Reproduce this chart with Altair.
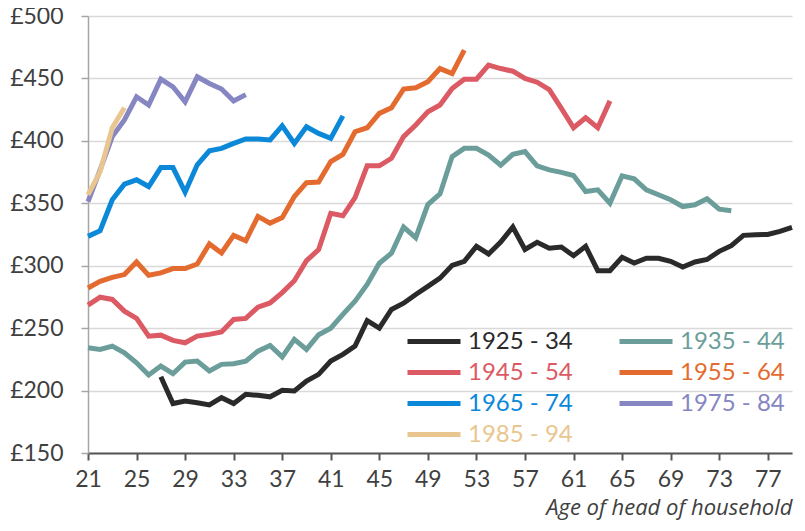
import altair as alt
import pandas as pd

cohorts = ["1925 - 34", "1935 - 44", "1945 - 54", "1955 - 64", "1965 - 74", "1975 - 84", "1985 - 94"]
colors = ["#2a2a2a", "#6b9e9b", "#db5a64", "#e46b2f", "#0b88d8", "#8586c2", "#e9c68f"]
start_ages = [27, 21, 21, 21, 21, 21, 21]

v1925 = [211, 189.6, 191.7, 190.3, 188.5, 194.3, 189.6, 197, 196.2, 195, 200.2, 199.7, 207.7, 213,
         223.6, 229, 235.6, 256, 250, 265, 270, 277, 283.5, 290, 300.3, 303.5, 315.5, 309.4, 319,
         331, 313, 318.7, 314, 315, 308, 315.5, 296, 296, 306.7, 302.2, 306, 306, 303.5, 299, 303,
         305, 311.5, 316, 324.3, 324.8, 325, 327.5, 330.7]
v1935 = [234.3, 233, 235.6, 230.3, 222.3, 212.5, 219.6, 213.5, 222.8, 223.6, 215.7, 221, 221.5,
         223.6, 231.6, 236.2, 227, 241, 233, 244.7, 250, 261, 271.6, 285, 302, 310, 331, 322.5,
         349, 357.5, 387.4, 394, 394, 388.7, 380.5, 389.2, 391.4, 380, 376.8, 374.8, 372.2, 359.4,
         360.8, 350, 372, 369.6, 360.8, 356.8, 352.8, 347.4, 348.8, 353.6, 345.3, 344]
v1945 = [268.4, 274.8, 273, 263.6, 257.8, 243.6, 244.4, 240.2, 238.3, 243.6, 245, 247, 256.9,
         257.8, 266.8, 270.2, 278.5, 288, 304, 312.9, 342, 340, 354.5, 380, 380, 386, 403.4,
         412.7, 423.3, 428.7, 441.9, 449.4, 449.4, 460.6, 457.9, 455.8, 450, 447, 441, 426,
         410.5, 418.5, 410.5, 432]
v1955 = [282.2, 287.5, 290.7, 292.9, 303, 292.3, 294.2, 297.7, 297.7, 301.4, 317.4, 310.2, 324.3,
         320, 339.5, 334.1, 338.5, 355.4, 366.5, 367, 383.4, 389.2, 407.3, 410.5, 422, 426.5,
         441.5, 442.5, 447.3, 457.9, 453.9, 472.6]
v1965 = [323.5, 328, 352.8, 365.3, 368.8, 363.4, 378.6, 378.6, 358.9, 380.8, 392, 394, 398, 401.5,
         401.5, 400.7, 412, 398, 411.3, 406, 402, 420]
v1975 = [351.4, 376.8, 403.4, 416.7, 435.3, 428.7, 449.4, 443.3, 431.3, 451.3, 445.9, 441.5,
         431.9, 437]
v1985 = [356.8, 375.4, 410.5, 426.5]

series = [v1925, v1935, v1945, v1955, v1965, v1975, v1985]
x_ticks = list(range(21, 78, 4))
y_ticks = list(range(150, 501, 50))

rows = []
for i, (name, start, vals) in enumerate(zip(cohorts, start_ages, series)):
    for k, v in enumerate(vals):
        rows.append({"cohort": name, "age": start + k, "value": v, "ord": i})
df = pd.DataFrame(rows)

label_expr = " : ".join(
    f"datum.label == '{c}' ? '{col}'" for c, col in zip(cohorts, colors)
) + " : '#333'"

FONT = "Lato"

chart = alt.Chart(df).mark_line(strokeWidth=5, strokeJoin="miter", strokeCap="butt").encode(
    x=alt.X("age:Q",
            scale=alt.Scale(domain=[21, 79], nice=False, zero=False),
            axis=alt.Axis(values=x_ticks, title="Age of head of household", grid=False,
                          domainColor="#555555", domainWidth=2, tickColor="#555555", tickWidth=2,
                          tickSize=7, labelFontSize=23, labelColor="#404040", labelPadding=8,
                          labelFont=FONT, titleFont="Open Sans", titleFontSize=22,
                          titleFontStyle="italic", titleFontWeight="normal", titleColor="#404040",
                          titleAnchor="end", titlePadding=6, labelFlush=False)),
    y=alt.Y("value:Q",
            scale=alt.Scale(domain=[150, 500], nice=False, zero=False),
            axis=alt.Axis(values=y_ticks, title=None, labelExpr="'£' + datum.value",
                          grid=True, gridColor="#d9d9d9", gridWidth=1.5,
                          domainColor="#a6a6a6", domainWidth=1.5, tickColor="#a6a6a6",
                          tickWidth=1.5, tickSize=7, labelFontSize=23, labelColor="#404040",
                          labelPadding=18, labelFont=FONT)),
    color=alt.Color("cohort:N",
                    scale=alt.Scale(domain=cohorts, range=colors),
                    legend=alt.Legend(title=None, orient="none", legendX=317, legendY=313,
                                      columns=2, direction="horizontal",
                                      symbolType="stroke", symbolSize=2809,
                                      symbolStrokeWidth=5, labelFontSize=24, labelFont=FONT,
                                      labelOffset=5, rowPadding=6, columnPadding=44,
                                      clipHeight=25,
                                      labelColor={"expr": label_expr})),
    order=alt.Order("ord:Q"),
).properties(
    width=704, height=437,
    padding={"left": 80, "top": 8, "right": 5, "bottom": 70},
    autosize=alt.AutoSizeParams(type="none"),
).configure_view(stroke=None)

chart.save("out.html", embed_options={"renderer": "svg", "actions": False})
